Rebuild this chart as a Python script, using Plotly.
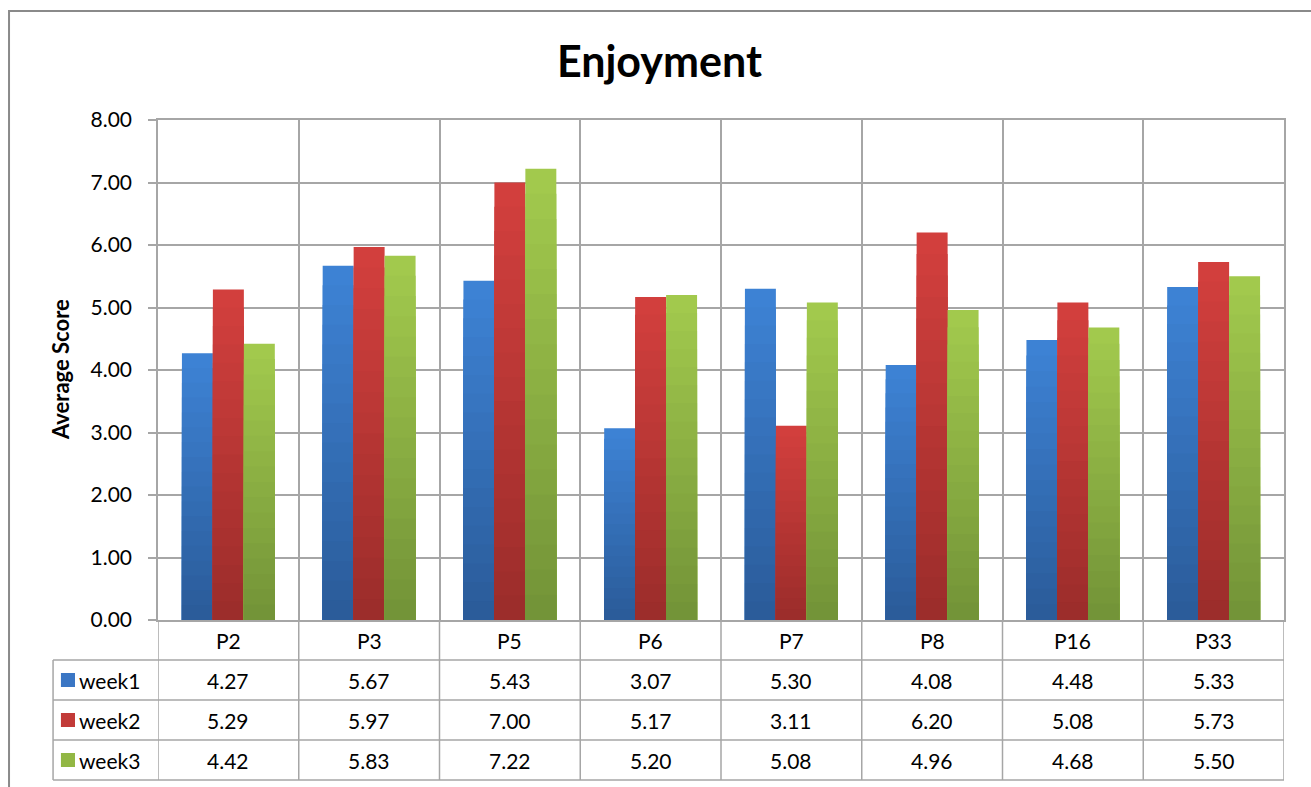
import plotly.graph_objects as go

# Participants and weekly average enjoyment scores
participants = ["P2", "P3", "P5", "P6", "P7", "P8", "P16", "P33"]
series_names = ["week1", "week2", "week3"]
week1 = [4.27, 5.67, 5.43, 3.07, 5.30, 4.08, 4.48, 5.33]
week2 = [5.29, 5.97, 7.00, 5.17, 3.11, 6.20, 5.08, 5.73]
week3 = [4.42, 5.83, 7.22, 5.20, 5.08, 4.96, 4.68, 5.50]
y_ticks = [0, 1, 2, 3, 4, 5, 6, 7, 8]

series_values = [week1, week2, week3]
# (light top colour, dark bottom colour, legend key colour)
palettes = [
    ("#3d82d4", "#2b5c9a", "#3a76c4"),
    ("#d23f3d", "#9c2d2b", "#c23a38"),
    ("#a2c94d", "#739438", "#92b744"),
]
offsets = [-0.33, -0.11, 0.11]
bar_w = 0.22
N_LAYERS = 18

FONT = "Lato, Carlito, Calibri, sans-serif"
GRID = "#a6a6a6"
TXT = 21


def mix(c1, c2, t):
    a = [int(c1[i:i + 2], 16) for i in (1, 3, 5)]
    b = [int(c2[i:i + 2], 16) for i in (1, 3, 5)]
    return "#" + "".join(f"{round(a[j] + (b[j] - a[j]) * t):02x}" for j in range(3))


fig = go.Figure()

# Each bar is a stack of overlapping layers, shortest on top, giving a
# light-to-dark vertical gradient.
for name, vals, (top, bot, _), off in zip(series_names, series_values, palettes, offsets):
    for k in range(N_LAYERS):
        frac = (N_LAYERS - k) / N_LAYERS
        fig.add_trace(go.Bar(
            x=participants,
            y=[v * frac for v in vals],
            name=name,
            width=bar_w,
            offset=off,
            marker=dict(color=mix(top, bot, k / (N_LAYERS - 1)), line=dict(width=0)),
            showlegend=False,
            hoverinfo="skip" if k else None,
            customdata=vals,
            hovertemplate=(name + " %{x}: %{customdata:.2f}<extra></extra>") if k == 0 else None,
        ))

shapes = []
annotations = []

# Outer chart frame
shapes.append(dict(type="rect", xref="paper", yref="paper",
                   x0=-0.1323, x1=1.06, y0=-0.45, y1=1.218,
                   line=dict(color="#8a8a8a", width=2), fillcolor="rgba(0,0,0,0)", layer="below"))

# Data table below the plot
row_edges = [-0.08, -0.16, -0.24, -0.32]
for ry in row_edges:
    shapes.append(dict(type="line", xref="paper", yref="paper",
                       x0=-0.0932, x1=1.0, y0=ry, y1=ry,
                       line=dict(color=GRID, width=1.5)))
shapes.append(dict(type="line", xref="paper", yref="paper",
                   x0=-0.0932, x1=-0.0932, y0=-0.08, y1=-0.32,
                   line=dict(color=GRID, width=1.5)))
for i in range(len(participants) + 1):
    shapes.append(dict(type="line", xref="x", yref="paper",
                       x0=i - 0.5, x1=i - 0.5, y0=0, y1=-0.32,
                       line=dict(color=GRID, width=1.5)))

for i, p in enumerate(participants):
    annotations.append(dict(x=p, y=-0.04, xref="x", yref="paper", text=p,
                            showarrow=False, font=dict(size=TXT, color="#000"),
                            xanchor="center", yanchor="middle"))

row_centers = [-0.12, -0.20, -0.28]
for name, vals, (_, _, key), rc in zip(series_names, series_values, palettes, row_centers):
    shapes.append(dict(type="rect", xref="paper", yref="paper",
                       x0=-0.0862, x1=-0.0737, y0=rc - 0.014, y1=rc + 0.014,
                       fillcolor=key, line=dict(width=0)))
    annotations.append(dict(x=-0.0715, y=rc, xref="paper", yref="paper", text=name,
                            showarrow=False, font=dict(size=TXT, color="#000"),
                            xanchor="left", yanchor="middle"))
    for p, v in zip(participants, vals):
        annotations.append(dict(x=p, y=rc, xref="x", yref="paper", text=f"{v:.2f}",
                                showarrow=False, font=dict(size=TXT, color="#000"),
                                xanchor="center", yanchor="middle"))

# Y axis title
annotations.append(dict(x=-0.087, y=0.5, xref="paper", yref="paper",
                        text="<b>Average Score</b>", textangle=-90, showarrow=False,
                        font=dict(size=22, color="#000"),
                        xanchor="center", yanchor="middle"))

fig.update_layout(
    width=1311, height=787,
    margin=dict(l=158, r=27, t=120, b=167),
    paper_bgcolor="white", plot_bgcolor="white",
    barmode="overlay",
    font=dict(family=FONT, color="#000"),
    title=dict(text="<b>Enjoyment</b>", x=0.503, xanchor="center",
               y=0.921, yanchor="middle", font=dict(size=43, color="#000")),
    xaxis=dict(type="category", categoryorder="array", categoryarray=participants,
               tickson="boundaries", showgrid=True, gridcolor=GRID, gridwidth=1.5,
               showticklabels=False, ticks="", showline=True, linecolor=GRID,
               linewidth=1.5, mirror=True, range=[-0.5, len(participants) - 0.5]),
    yaxis=dict(range=[0, 8], tickvals=y_ticks, tickformat=".2f",
               showgrid=True, gridcolor=GRID, gridwidth=1.5,
               ticks="outside", ticklen=8, tickcolor=GRID, tickwidth=1.5,
               showline=True, linecolor=GRID, linewidth=1.5, mirror=True,
               tickfont=dict(size=TXT, color="#000"), ticklabelstandoff=12,
               zeroline=False),
    shapes=shapes,
    annotations=annotations,
)

fig.write_html("out.html")
